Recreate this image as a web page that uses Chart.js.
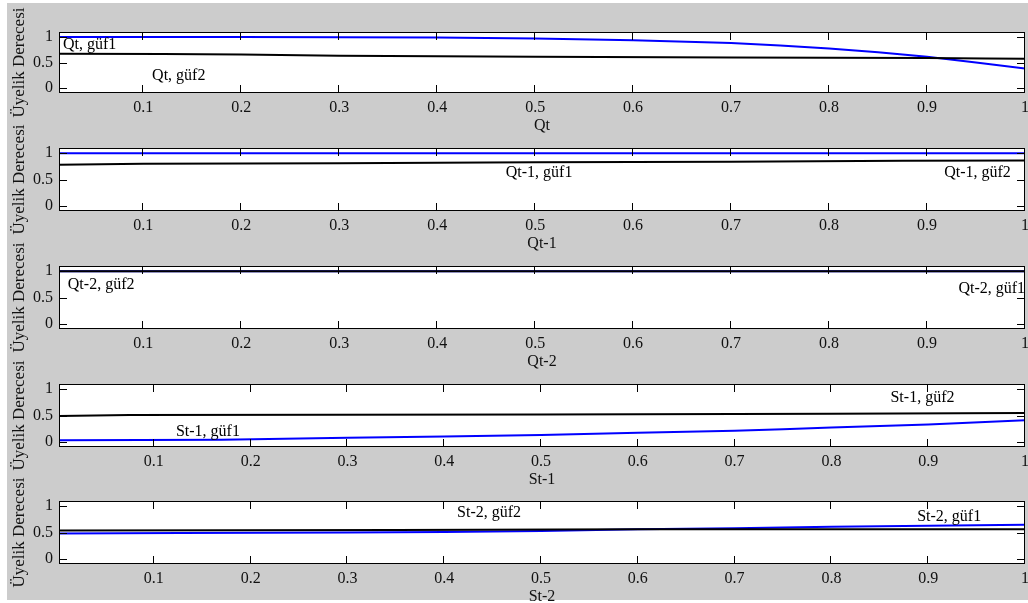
<!DOCTYPE html>
<html><head><meta charset="utf-8">
<script src="https://cdn.jsdelivr.net/npm/chart.js@4"></script>
<style>
html,body{margin:0;padding:0;background:#fff;width:1028px;height:603px;overflow:hidden;}
#bg{position:absolute;left:7px;top:3px;width:1021px;height:597px;background:#cccccc;}
canvas{position:absolute;left:0;top:0;}
</style></head><body>
<div id="bg"></div>
<canvas id="c0" width="1028" height="603"></canvas>
<canvas id="c1" width="1028" height="603"></canvas>
<canvas id="c2" width="1028" height="603"></canvas>
<canvas id="c3" width="1028" height="603"></canvas>
<canvas id="c4" width="1028" height="603"></canvas>
<script>
// ---- data ----
const panelTitles = ['Qt', 'Qt-1', 'Qt-2', 'St-1', 'St-2'];
const yAxisTitle = 'Üyelik Derecesi';
const xTickValues = [0.1, 0.2, 0.3, 0.4, 0.5, 0.6, 0.7, 0.8, 0.9, 1];
const xTickLabels = ['0.1', '0.2', '0.3', '0.4', '0.5', '0.6', '0.7', '0.8', '0.9', '1'];
const yTickValues = [0, 0.5, 1];
const yTickLabels = ['0', '0.5', '1'];
const xMinValues = [0.014, 0.014, 0.014, 0.002, 0.002];

// Qt
const qtGuf1X = [0.014, 0.1, 0.2, 0.3, 0.4, 0.5, 0.6, 0.7, 0.75, 0.8, 0.85, 0.9, 0.95, 1.0];
const qtGuf1Y = [1.0, 1.0, 1.0, 0.995, 0.99, 0.97, 0.94, 0.885, 0.835, 0.775, 0.70, 0.615, 0.50, 0.38];
const qtGuf2X = [0.014, 0.12, 0.2, 0.3, 0.5, 0.7, 0.9, 0.96, 1.0];
const qtGuf2Y = [0.67, 0.665, 0.655, 0.635, 0.615, 0.60, 0.59, 0.58, 0.575];
// Qt-1
const qt1Guf1X = [0.014, 1.0];
const qt1Guf1Y = [1.0, 1.0];
const qt1Guf2X = [0.014, 0.1, 0.3, 0.5, 0.7, 0.875, 1.0];
const qt1Guf2Y = [0.78, 0.80, 0.81, 0.83, 0.84, 0.855, 0.86];
// Qt-2
const qt2Guf1X = [0.014, 1.0];
const qt2Guf1Y = [1.0, 1.0];
const qt2Guf2X = [0.014, 1.0];
const qt2Guf2Y = [1.0, 1.0];
// St-1
const st1Guf1X = [0.002, 0.17, 0.3, 0.4, 0.5, 0.6, 0.7, 0.75, 0.8, 0.9, 1.0];
const st1Guf1Y = [0.03, 0.04, 0.075, 0.10, 0.13, 0.17, 0.21, 0.24, 0.27, 0.33, 0.41];
const st1Guf2X = [0.002, 0.075, 0.5, 0.8, 1.0];
const st1Guf2Y = [0.49, 0.51, 0.52, 0.535, 0.55];
// St-2
const st2Guf1X = [0.002, 0.127, 0.3, 0.4, 0.5, 0.6, 0.7, 0.8, 0.9, 1.0];
const st2Guf1Y = [0.48, 0.49, 0.50, 0.51, 0.53, 0.56, 0.58, 0.61, 0.63, 0.65];
const st2Guf2X = [0.002, 0.35, 0.6, 1.0];
const st2Guf2Y = [0.54, 0.55, 0.56, 0.56];

// text labels inside panels (data coordinates)
const annText = [['Qt, güf1', 'Qt, güf2'], ['Qt-1, güf1', 'Qt-1, güf2'], ['Qt-2, güf2', 'Qt-2, güf1'], ['St-1, güf1', 'St-1, güf2'], ['St-2, güf2', 'St-2, güf1']];
const annX = [[0.018, 0.109], [0.470, 0.9175], [0.023, 0.932], [0.1228, 0.861], [0.4133, 0.8886]];
const annY = [[0.844, 0.234], [0.624, 0.624], [0.738, 0.662], [0.19, 0.833], [0.871, 0.80]];

const guf1X = [qtGuf1X, qt1Guf1X, qt2Guf1X, st1Guf1X, st2Guf1X];
const guf1Y = [qtGuf1Y, qt1Guf1Y, qt2Guf1Y, st1Guf1Y, st2Guf1Y];
const guf2X = [qtGuf2X, qt1Guf2X, qt2Guf2X, st1Guf2X, st2Guf2X];
const guf2Y = [qtGuf2Y, qt1Guf2Y, qt2Guf2Y, st1Guf2Y, st2Guf2Y];

// ---- layout ----
const W = 1028, H = 603;
const plotTop = [32, 148, 266, 384, 501];
const plotBottom = [93, 211, 329, 447, 564];
const plotLeft = 59, plotRight = 1025;
const xAxisH = 39;

Chart.defaults.font.family = '"Liberation Serif", "Times New Roman", serif';
Chart.defaults.font.size = 16;
Chart.defaults.color = '#111';

const framePlugin = {
  id: 'frame',
  beforeDraw(chart) {
    const {ctx, chartArea: a} = chart;
    ctx.save();
    ctx.fillStyle = '#ffffff';
    ctx.fillRect(a.left, a.top, a.right - a.left, a.bottom - a.top);
    ctx.restore();
  },
  afterDraw(chart) {
    const {ctx, chartArea: a, scales: {x, y}} = chart;
    const idx = chart.options.plugins.frame.panel;
    ctx.save();
    ctx.strokeStyle = '#000';
    ctx.lineWidth = 1;
    ctx.beginPath();
    xTickValues.forEach(v => {
      const px = Math.round(x.getPixelForValue(v)) - 0.5;
      ctx.moveTo(px, a.top); ctx.lineTo(px, a.top + 8);
      ctx.moveTo(px, a.bottom); ctx.lineTo(px, a.bottom - 8);
    });
    yTickValues.forEach(v => {
      const py = Math.round(y.getPixelForValue(v)) + 0.5;
      ctx.moveTo(a.left, py); ctx.lineTo(a.left + 8, py);
      ctx.moveTo(a.right, py); ctx.lineTo(a.right - 8, py);
    });
    ctx.stroke();
    ctx.strokeRect(a.left + 0.5, a.top + 0.5, a.right - a.left - 1, a.bottom - a.top - 1);
    ctx.fillStyle = '#000';
    ctx.font = '16px "Liberation Serif", "Times New Roman", serif';
    ctx.textAlign = 'left';
    ctx.textBaseline = 'middle';
    annText[idx].forEach((t, k) => {
      ctx.fillText(t, x.getPixelForValue(annX[idx][k]), y.getPixelForValue(annY[idx][k]));
    });
    ctx.restore();
  }
};

function pts(xs, ys) { return xs.map((v, i) => ({x: v, y: ys[i]})); }

for (let i = 0; i < 5; i++) {
  new Chart(document.getElementById('c' + i), {
    type: 'line',
    data: {
      datasets: [
        {data: pts(guf2X[i], guf2Y[i]), borderColor: '#000000', borderWidth: 2, pointRadius: 0, tension: 0},
        {data: pts(guf1X[i], guf1Y[i]), borderColor: '#0000ff', borderWidth: 2, pointRadius: 0, tension: 0}
      ]
    },
    options: {
      responsive: false,
      devicePixelRatio: 1,
      animation: false,
      events: [],
      layout: {padding: {top: plotTop[i], left: 0, right: W - plotRight, bottom: H - plotBottom[i] - xAxisH}},
      plugins: {legend: {display: false}, tooltip: {enabled: false}, frame: {panel: i}},
      scales: {
        x: {
          type: 'linear', min: xMinValues[i], max: 1,
          grid: {display: false, drawTicks: false}, border: {display: false},
          afterBuildTicks: s => { s.ticks = xTickValues.map(v => ({value: v})); },
          afterFit: s => { s.height = xAxisH; s.paddingLeft = 0; s.paddingRight = 0; },
          ticks: {padding: 5, maxRotation: 0, autoSkip: false, callback: (v, k) => xTickLabels[k]},
          title: {display: true, text: panelTitles[i], padding: {top: 0, bottom: 0}, font: {size: 16, lineHeight: 0.8}}
        },
        y: {
          type: 'linear', min: -0.1, max: 1.1,
          grid: {display: false, drawTicks: false}, border: {display: false},
          afterBuildTicks: s => { s.ticks = yTickValues.map(v => ({value: v})); },
          afterFit: s => { s.width = plotLeft; s.paddingTop = 0; s.paddingBottom = 0; },
          ticks: {padding: 6, autoSkip: false, callback: (v, k) => yTickLabels[k]},
          title: {display: true, text: yAxisTitle, padding: {top: 9, bottom: 0}, font: {size: 17}}
        }
      }
    },
    plugins: [framePlugin]
  });
}
</script>
</body></html>
